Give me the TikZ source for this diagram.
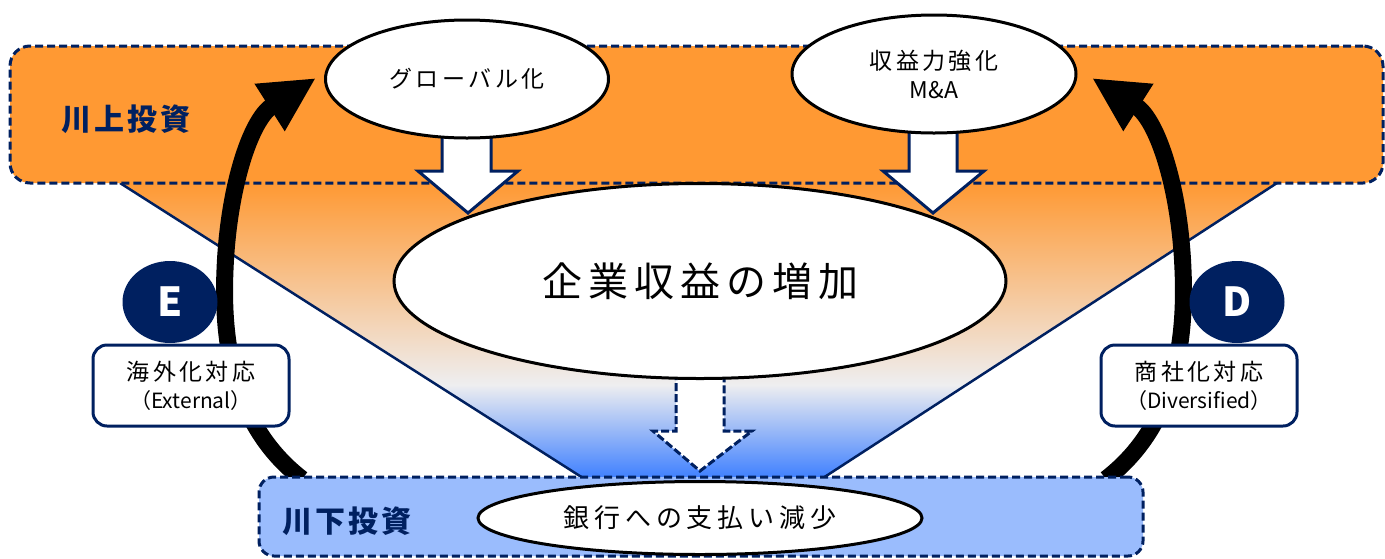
\documentclass[tikz,border=0pt]{standalone}
\usepackage{fontspec}
\setmainfont{Noto Sans CJK JP}
\usetikzlibrary{shapes.geometric,arrows.meta}
\definecolor{navy}{HTML}{002060}
\definecolor{bandorange}{HTML}{FF9933}
\definecolor{lowblue}{HTML}{9ABCFD}
\definecolor{fblue}{HTML}{3F80FF}
\definecolor{fwhite}{HTML}{EEEEF0}
\pgfdeclareverticalshading{funnel}{100bp}{color(0bp)=(fblue); color(25bp)=(fblue); color(40.8bp)=(fwhite); color(75bp)=(bandorange); color(100bp)=(bandorange)}
\newcommand{\setfs}[2]{\fontsize{#1}{#2}\selectfont}
\begin{document}
\begin{tikzpicture}[x=1pt,y=-1pt,
  bandbox/.style={draw=navy, line width=3pt, dash pattern=on 8pt off 4pt, rounded corners=20pt, inner sep=0pt},
  bandlabel/.style={text=navy, font=\bfseries\setfs{30}{36}\addfontfeatures{LetterSpace=10}},
  oval/.style={ellipse, draw=black, line width=3pt, fill=white, inner sep=0pt},
  badge/.style={ellipse, fill=navy, text=white, inner sep=0pt, minimum width=95pt, minimum height=82pt, font=\bfseries\setfs{40}{44}},
  labelbox/.style={rectangle, rounded corners=14pt, draw=navy, line width=3pt, fill=white, inner sep=0pt, minimum width=196pt, minimum height=81pt, align=center, font=\setfs{23}{28}},
  bigarrow/.style={line width=17pt, -{Triangle[length=55pt,width=52pt]}},
  blockarrow/.style={draw=navy, line width=3pt, fill=white, line join=miter},
  funnelline/.style={draw=navy, line width=2.5pt}
]
\useasboundingbox (0,0) rectangle (1385,558);

% funnel
\shade[shading=funnel] (120,183) -- (1277,183) -- (823,478) -- (583,478) -- cycle;
\draw[funnelline] (120,183) -- (583,478) (1277,183) -- (823,478);

% upper band
\node[bandbox, fill=bandorange, minimum width=1373pt, minimum height=137pt] (up) at (696.5,114.5) {};
\node[bandlabel] (uplabel) at (126,119) {川上投資};

% curved arrows
\coordinate (Ls) at (302,479);
\coordinate (Lt) at (316,78);
\coordinate (Rs) at (1106,479);
\coordinate (Rt) at (1092,78);
\draw[bigarrow] (Ls) .. controls (232,425) and (222,340) .. (225,270) .. controls (228,190) and (250,120) .. (Lt);
\draw[bigarrow] (Rs) .. controls (1176,425) and (1186,340) .. (1183,270) .. controls (1180,190) and (1158,120) .. (Rt);

% lower band
\node[bandbox, fill=lowblue, rounded corners=15pt, minimum width=884pt, minimum height=79pt] (low) at (701,516.5) {};
\node[bandlabel] (lowlabel) at (347,521) {川下投資};

% badges and labels
\node[badge] (E) at (170,302) {E};
\node[badge] (D) at (1237,302) {D};
\node[labelbox] (ext) at (191,385.5) {{\addfontfeatures{LetterSpace=15}海外化対応}\\{\setfs{21}{28}（External）}};
\node[labelbox] (div) at (1199,385.5) {{\addfontfeatures{LetterSpace=15}商社化対応}\\{\setfs{21}{28}（Diversified）}};

% block arrows
\draw[blockarrow] (442,120) -- (442,171) -- (418,171) -- (468,213) -- (518,171) -- (491,171) -- (491,120) -- cycle;
\draw[blockarrow] (909,120) -- (909,171) -- (883,171) -- (933,213) -- (984,171) -- (957,171) -- (957,120) -- cycle;
\draw[blockarrow, dash pattern=on 8pt off 3pt] (676,350) -- (676,431) -- (653,431) -- (700,471) -- (752,431) -- (724,431) -- (724,350) -- cycle;

% ellipses
\node[oval, minimum width=283pt, minimum height=118pt, font=\setfs{23}{28}\addfontfeatures{LetterSpace=15}] (glob) at (467,79) {グローバル化};
\node[oval, minimum width=284pt, minimum height=118pt, align=center, font=\setfs{23}{29}] (ma) at (934,74) {{\addfontfeatures{LetterSpace=15}収益力強化}\\M\&A};
\node[oval, minimum width=612pt, minimum height=195pt, font=\setfs{40}{48}\addfontfeatures{LetterSpace=15}] (profit) at (700,281) {企業収益の増加};
\node[oval, minimum width=444pt, minimum height=73pt, font=\setfs{26}{30}\addfontfeatures{LetterSpace=19}] (bank) at (700,518) {銀行への支払い減少};
\end{tikzpicture}
\end{document}
